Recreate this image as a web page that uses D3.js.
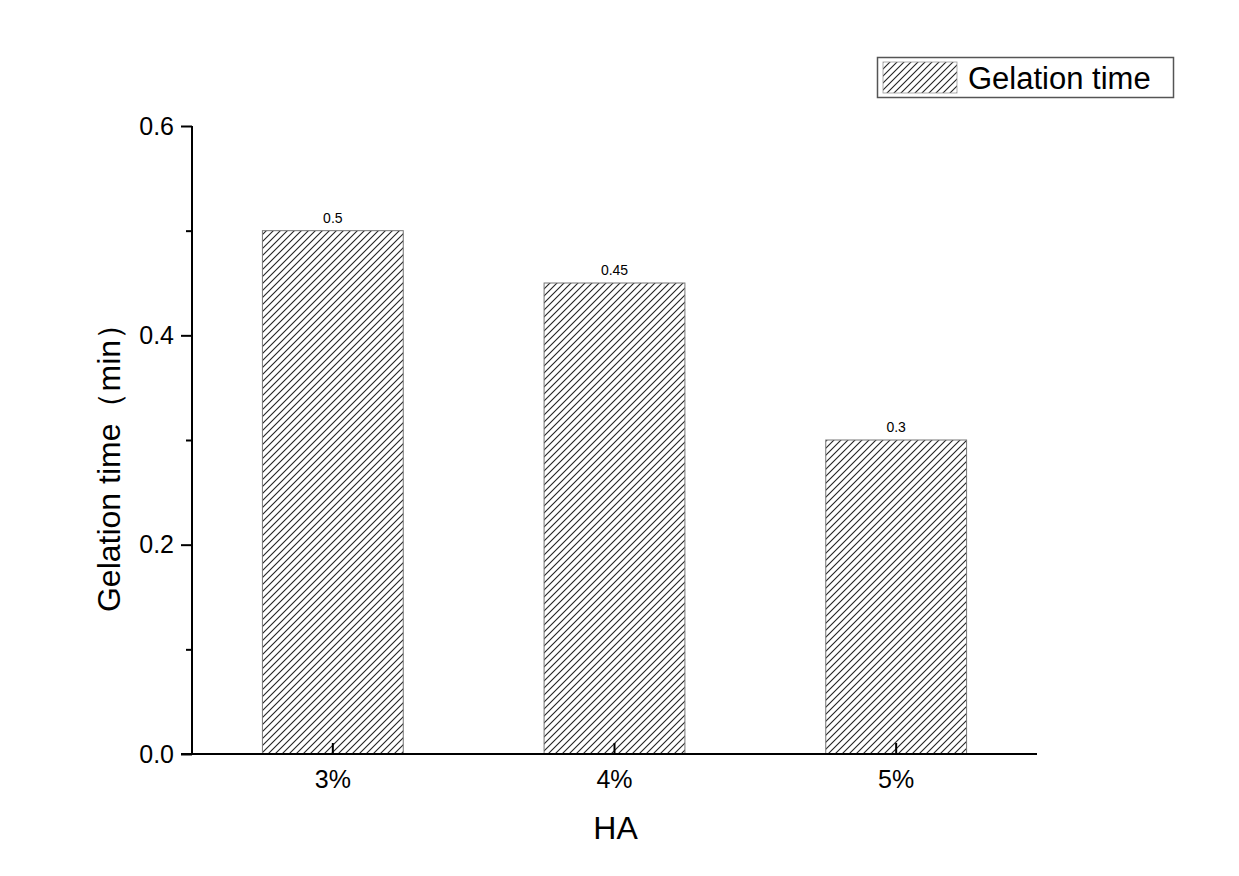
<!DOCTYPE html>
<html><head><meta charset="utf-8">
<script src="https://cdn.jsdelivr.net/npm/d3@7"></script>
<style>body{margin:0;background:#fff;} text{font-family:"Liberation Sans",Arial,sans-serif;}</style>
</head><body>
<svg id="c" width="1239" height="876"></svg>
<script>
const categories = ["3%", "4%", "5%"];
const values = [0.5, 0.45, 0.3];
const valueLabels = ["0.5", "0.45", "0.3"];
const yTicks = [0.0, 0.2, 0.4, 0.6];
const yMinorTicks = [0.1, 0.3, 0.5];
const seriesName = "Gelation time";

const svg = d3.select("#c");
const defs = svg.append("defs");
const pat = defs.append("pattern").attr("id","hatch").attr("patternUnits","userSpaceOnUse")
  .attr("width",7).attr("height",7);
pat.append("rect").attr("width",7).attr("height",7).attr("fill","#fff");
pat.append("path").attr("d","M-1,8 L8,-1 M-4.5,4.5 L4.5,-4.5 M2.5,11.5 L11.5,2.5")
  .attr("stroke","#222").attr("stroke-width",1.1);

const x0 = 192, x1 = 1037, yTop = 126, yBot = 754;
const x = d3.scaleBand().domain(categories).range([x0, x1]).paddingInner(0.5).paddingOuter(0.25);
const y = d3.scaleLinear().domain([0, 0.6]).range([yBot, yTop]);

// bars
svg.selectAll("rect.bar").data(values).enter().append("rect")
  .attr("x",(d,i)=>x(categories[i])).attr("y",d=>y(d))
  .attr("width",x.bandwidth()).attr("height",d=>y(0)-y(d))
  .attr("fill","url(#hatch)").attr("stroke","#777").attr("stroke-width",1);

svg.selectAll("text.vl").data(values).enter().append("text")
  .attr("x",(d,i)=>x(categories[i])+x.bandwidth()/2).attr("y",d=>y(d)-8)
  .attr("text-anchor","middle").attr("font-size",14).text((d,i)=>valueLabels[i]);

// y axis
const yAxis = d3.axisLeft(y).tickValues(yTicks).tickFormat(d3.format(".1f")).tickSize(11).tickPadding(7);
const gy = svg.append("g").attr("transform",`translate(${x0},0)`).call(yAxis);
gy.attr("font-size",null).attr("font-family",null);
gy.select(".domain").attr("stroke","#000").attr("stroke-width",2).attr("d",`M0,${yTop}V${yBot}`);
gy.selectAll(".tick line").attr("stroke-width",2);
gy.selectAll(".tick text").style("font-size","25px").attr("fill","#000");
const gym = svg.append("g").attr("transform",`translate(${x0},0)`)
  .call(d3.axisLeft(y).tickValues(yMinorTicks).tickSize(6).tickFormat(""));
gym.select(".domain").remove();
gym.selectAll(".tick line").attr("stroke-width",2);

// x axis
const xAxis = d3.axisBottom(x).tickSize(0).tickPadding(16);
const gx = svg.append("g").attr("transform",`translate(0,${yBot})`).call(xAxis);
gx.attr("font-size",null).attr("font-family",null);
gx.select(".domain").attr("stroke","#000").attr("stroke-width",2).attr("d",`M${x0-11},0H${x1}`);
gx.selectAll(".tick text").style("font-size","25px").attr("fill","#000");
gx.selectAll(".tick").append("line").attr("y1",0).attr("y2",-11).attr("stroke","#000").attr("stroke-width",2);

// titles
svg.append("text").attr("x",(x0+x1)/2+1).attr("y",839).attr("text-anchor","middle").style("font-size","32px").text("HA");
svg.append("text").attr("transform",`translate(120,460) rotate(-90)`).attr("text-anchor","middle")
  .style("font-size","32px").text("Gelation time（min）");

// legend
const lg = svg.append("g");
lg.append("rect").attr("x",877.5).attr("y",57.5).attr("width",296).attr("height",40).attr("fill","#fff").attr("stroke","#555").attr("stroke-width",1.5);
lg.append("rect").attr("x",883).attr("y",62).attr("width",74).attr("height",31).attr("fill","url(#hatch)").attr("stroke","#999").attr("stroke-width",0.8);
lg.append("text").attr("x",968).attr("y",89).style("font-size","31px").text(seriesName);
</script>
</body></html>
